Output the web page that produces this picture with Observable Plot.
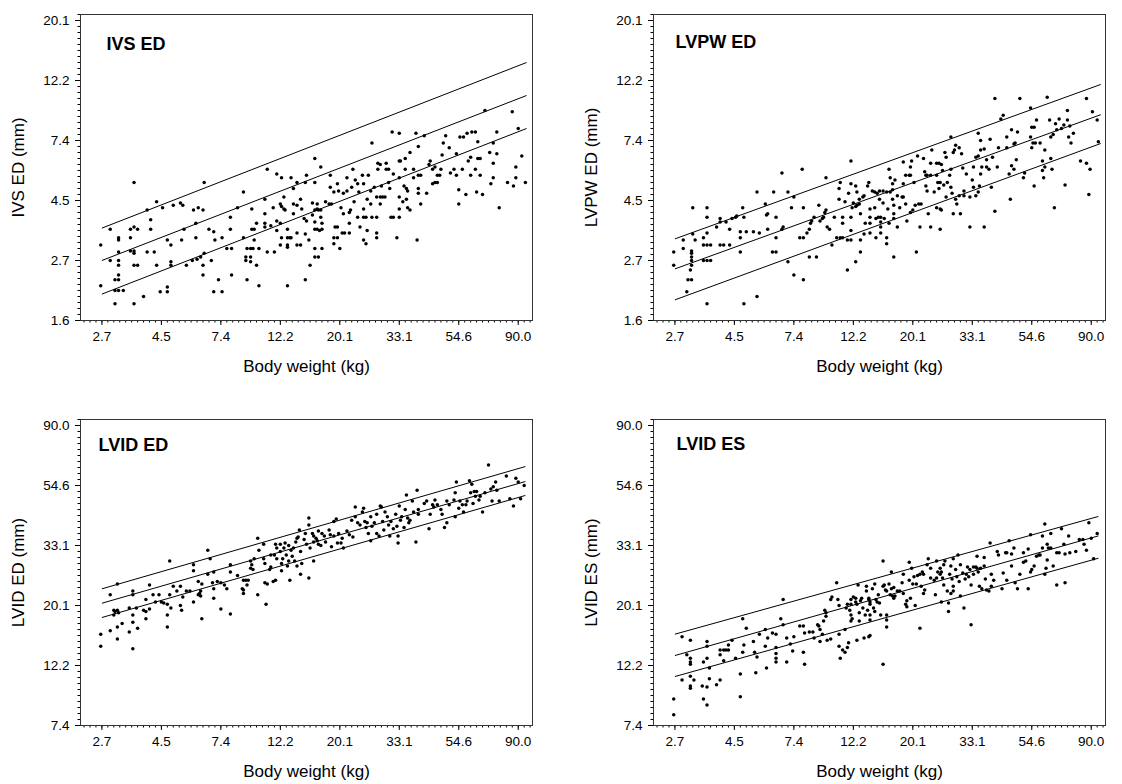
<!DOCTYPE html>
<html><head><meta charset="utf-8">
<script src="https://cdn.jsdelivr.net/npm/d3@7"></script>
<script src="https://cdn.jsdelivr.net/npm/@observablehq/plot@0.6"></script>
<style>
body{margin:0;background:#fff;}
#wrap{position:relative;width:1122px;height:784px;overflow:hidden;background:#fff;}
.panel{position:absolute;}
</style></head><body><div id="wrap"></div>
<script>
// Axes are natural-log scaled; values below are ln(body weight, kg) and ln(measurement, mm).
const xTickValues = [1, 1.5, 2, 2.5, 3, 3.5, 4, 4.5];
const xTickLabels = ["2.7", "4.5", "7.4", "12.2", "20.1", "33.1", "54.6", "90.0"];
const wallTickValues = [0.5, 1, 1.5, 2, 2.5, 3];
const wallTickLabels = ["1.6", "2.7", "4.5", "7.4", "12.2", "20.1"];
const lvidTickValues = [2, 2.5, 3, 3.5, 4, 4.5];
const lvidTickLabels = ["7.4", "12.2", "20.1", "33.1", "54.6", "90.0"];
const xTitle = "Body weight (kg)";

const ivsPoints = [[1.27,1.65],[0.99,1.13],[0.99,0.79],[1.07,1.26],[1.07,1.00],[1.11,0.64],[1.11,0.84],[1.11,0.75],[1.14,0.75],[1.18,0.75],[1.14,1.19],[1.14,1.17],[1.14,1.07],[1.14,1.00],[1.14,0.96],[1.14,0.88],[1.14,0.84],[1.24,1.19],[1.24,1.26],[1.27,1.28],[1.30,1.26],[1.24,1.08],[1.27,1.08],[1.27,1.06],[1.27,0.96],[1.30,0.96],[1.27,0.64],[1.35,0.70],[1.38,1.42],[1.41,1.34],[1.41,1.26],[1.38,1.07],[1.44,1.07],[1.46,1.49],[1.51,1.44],[1.46,0.96],[1.49,0.74],[1.55,1.17],[1.58,1.13],[1.58,0.99],[1.58,0.96],[1.55,0.78],[1.55,0.74],[1.60,1.46],[1.66,1.48],[1.68,1.46],[1.67,1.17],[1.69,1.26],[1.71,0.96],[1.77,1.42],[1.81,1.44],[1.85,1.42],[1.79,1.19],[1.76,1.00],[1.80,1.01],[1.83,1.03],[1.86,1.06],[1.86,1.65],[1.79,1.31],[1.85,0.96],[1.85,0.88],[1.90,1.26],[1.92,1.00],[1.94,1.24],[1.95,1.17],[1.94,0.74],[2.01,0.74],[1.98,0.84],[2.01,1.19],[2.05,1.10],[2.09,1.10],[2.08,1.36],[2.08,1.26],[2.09,0.88],[2.14,1.44],[2.19,1.57],[2.19,1.19],[2.22,1.10],[2.25,1.10],[2.27,1.10],[2.21,1.03],[2.25,1.03],[2.21,1.00],[2.25,0.99],[2.22,0.84],[2.26,1.43],[2.26,1.26],[2.28,1.26],[2.28,1.17],[2.30,0.96],[2.32,1.10],[2.32,0.79],[2.30,1.31],[2.37,1.51],[2.37,1.39],[2.37,1.31],[2.37,1.28],[2.39,1.76],[2.42,1.29],[2.44,1.44],[2.39,1.07],[2.45,1.07],[2.47,1.72],[2.51,1.69],[2.50,1.47],[2.51,1.45],[2.53,1.53],[2.47,1.33],[2.47,1.25],[2.50,1.31],[2.53,1.43],[2.54,1.42],[2.56,0.79],[2.56,1.26],[2.58,1.19],[2.50,1.13],[2.56,1.13],[2.56,1.11],[2.51,1.19],[2.56,1.19],[2.59,1.19],[2.59,1.69],[2.61,1.60],[2.61,1.47],[2.64,1.46],[2.61,1.39],[2.64,1.65],[2.64,1.23],[2.64,1.13],[2.67,1.13],[2.67,1.51],[2.68,1.43],[2.70,1.35],[2.72,1.71],[2.71,0.84],[2.74,1.17],
[2.71,1.65],[2.72,1.33],[2.71,1.22],[2.75,0.96],[2.77,1.48],[2.77,1.38],[2.79,1.85],[2.79,1.65],[2.79,1.42],[2.81,1.43],[2.82,1.42],[2.84,1.42],[2.79,1.32],[2.79,1.26],[2.81,1.26],[2.83,1.25],[2.85,1.26],[2.79,1.10],[2.79,1.03],[2.82,1.03],[2.81,1.47],[2.84,1.78],[2.84,1.36],[2.85,1.31],[2.85,1.10],[2.88,1.49],[2.91,1.47],[2.93,1.47],[2.92,1.71],[2.92,1.61],[2.95,1.57],[2.95,1.14],[2.96,1.28],[2.98,1.28],[2.95,1.19],[2.98,1.19],[2.98,1.64],[2.99,1.58],[3.00,1.10],[3.01,1.44],[3.02,1.23],[3.04,1.23],[3.03,1.39],[3.03,1.56],[3.06,1.58],[3.06,1.69],[3.08,1.40],[3.09,1.42],[3.08,1.31],[3.08,1.23],[3.10,1.61],[3.11,1.76],[3.12,1.49],[3.13,1.67],[3.15,1.64],[3.15,1.36],[3.16,1.57],[3.17,1.28],[3.19,1.71],[3.20,1.64],[3.20,1.43],[3.20,1.36],[3.22,1.36],[3.20,1.17],[3.22,1.14],[3.23,1.51],[3.23,1.25],[3.24,1.71],[3.26,1.58],[3.26,1.47],[3.27,1.98],[3.27,1.36],[3.29,1.61],[3.31,1.53],[3.31,1.36],[3.31,1.23],[3.31,1.19],[3.32,1.81],[3.32,1.76],[3.34,1.80],[3.34,1.53],[3.36,1.53],[3.38,1.53],[3.34,1.47],[3.35,1.62],[3.39,1.81],[3.39,1.76],[3.41,1.76],[3.41,1.65],[3.42,1.60],[3.43,1.36],[3.45,1.36],[3.44,2.07],[3.45,1.72],[3.48,1.19],[3.50,2.06],[3.50,1.83],[3.51,1.83],[3.50,1.69],[3.50,1.53],[3.50,1.43],[3.50,1.36],[3.53,1.49],[3.54,1.62],[3.56,1.60],[3.57,1.58],[3.55,1.85],[3.55,1.76],[3.56,1.51],[3.57,1.44],[3.59,1.42],[3.59,1.90],[3.62,1.76],[3.62,1.69],[3.64,2.06],[3.65,1.17],[3.66,1.71],[3.68,1.71],[3.66,1.95],[3.66,1.60],[3.66,1.56],[3.68,1.47],[3.71,2.04],[3.73,1.56],[3.75,1.80],[3.76,1.83],[3.78,1.64],[3.78,1.76],[3.80,1.78],[3.80,1.65],[3.82,1.65],[3.82,1.71],[3.84,1.71],[3.85,1.76],[3.86,1.88],[3.87,1.98],[3.89,2.04],[3.92,1.94],[3.93,1.73],[3.96,1.76],[3.98,1.89],[3.98,1.71],[4.00,1.59],[4.00,1.47],[4.01,2.03],[4.04,2.03],[4.03,1.76],[4.06,1.55],[4.07,2.06],[4.08,1.83],[4.10,1.86],[4.10,1.71],[4.11,2.07],[4.14,2.07],[4.14,1.76],[4.15,1.57],[4.16,1.99],[4.16,1.85],[4.18,1.85],[4.18,1.71],[4.20,1.55],[4.22,2.25],[4.26,1.90],[4.27,1.64],[4.29,1.98],[4.29,1.81],[4.29,1.69],[4.32,1.89],[4.32,2.07],[4.34,1.44],[4.41,1.65],[4.45,2.24],[4.46,1.62],[4.48,1.78],[4.48,1.69],[4.50,2.10],[4.53,1.87],[4.56,1.65]];

const lvpwPoints = [[0.99,1.07],[0.99,0.96],[1.07,1.17],[1.07,1.10],[1.10,0.74],[1.11,0.84],[1.14,0.84],[1.13,0.92],[1.14,0.96],[1.14,1.00],[1.14,1.03],[1.14,1.06],[1.14,1.08],[1.15,1.44],[1.15,1.22],[1.17,1.17],[1.24,1.19],[1.24,1.13],[1.27,1.13],[1.30,1.13],[1.24,1.00],[1.27,1.00],[1.30,1.00],[1.27,1.44],[1.27,1.36],[1.27,1.23],[1.27,0.64],[1.35,1.28],[1.38,1.35],[1.38,1.32],[1.38,1.13],[1.41,1.13],[1.43,1.32],[1.46,1.26],[1.46,1.13],[1.48,1.35],[1.51,1.36],[1.52,1.37],[1.55,1.24],[1.55,1.19],[1.55,1.07],[1.57,1.44],[1.58,1.36],[1.58,0.64],[1.60,1.24],[1.66,1.24],[1.69,1.57],[1.69,0.70],[1.71,1.23],[1.76,1.47],[1.77,1.38],[1.78,1.39],[1.78,1.26],[1.82,1.07],[1.85,1.07],[1.83,1.57],[1.85,1.36],[1.85,1.19],[1.90,1.73],[1.90,1.26],[1.91,1.28],[1.95,1.57],[1.95,0.99],[1.98,1.44],[2.00,1.53],[2.00,0.88],[2.05,1.19],[2.08,1.19],[2.07,1.76],[2.08,0.84],[2.08,1.44],[2.13,1.03],[2.19,1.03],[2.11,1.23],[2.13,1.26],[2.14,1.31],[2.15,1.33],[2.17,1.36],[2.21,1.46],[2.22,1.33],[2.24,1.35],[2.26,1.40],[2.27,1.42],[2.25,1.36],[2.27,1.69],[2.28,1.28],[2.30,1.26],[2.32,1.13],[2.34,1.36],[2.36,1.19],[2.38,1.60],[2.38,1.51],[2.39,1.19],[2.41,1.19],[2.39,1.65],[2.41,1.36],[2.41,1.31],[2.43,1.49],[2.45,0.92],[2.45,1.17],[2.46,1.56],[2.48,1.83],[2.48,1.64],[2.48,1.25],[2.48,1.17],[2.48,1.36],[2.49,1.44],[2.52,1.45],[2.53,1.46],[2.50,1.48],[2.55,1.47],[2.52,0.99],[2.52,1.62],[2.53,1.57],[2.55,1.51],[2.56,1.07],[2.56,1.39],[2.56,1.17],[2.58,1.53],[2.59,1.54],[2.59,1.22],[2.60,1.31],[2.62,1.62],[2.63,1.65],[2.64,1.43],
[2.64,1.31],[2.64,1.36],[2.64,1.23],[2.66,1.58],[2.68,1.57],[2.70,1.56],[2.72,1.58],[2.68,1.44],[2.69,1.19],[2.69,1.35],[2.71,1.36],[2.72,1.51],[2.73,1.36],[2.73,1.32],[2.73,1.28],[2.73,1.23],[2.75,1.58],[2.75,1.48],[2.76,1.35],[2.78,1.57],[2.78,1.19],[2.78,1.14],[2.79,1.43],[2.80,1.76],[2.80,1.31],[2.81,1.69],[2.81,1.57],[2.83,1.59],[2.83,1.64],[2.83,1.51],[2.84,1.46],[2.84,1.39],[2.84,1.03],[2.84,1.35],[2.85,1.67],[2.87,1.28],[2.87,1.54],[2.89,1.44],[2.91,1.53],[2.92,1.53],[2.92,1.64],[2.92,1.82],[2.94,1.71],[2.94,1.47],[2.95,1.33],[2.97,1.71],[2.98,1.71],[2.98,1.78],[2.98,1.40],[2.99,1.83],[3.00,1.42],[3.01,1.65],[3.02,1.46],[3.03,1.07],[3.04,1.87],[3.05,1.47],[3.07,1.47],[3.06,1.28],[3.09,1.85],[3.10,1.74],[3.11,1.71],[3.11,1.62],[3.12,1.58],[3.12,1.71],[3.15,1.71],[3.13,1.39],[3.15,1.28],[3.15,1.81],[3.16,1.92],[3.18,1.57],[3.20,1.81],[3.22,1.81],[3.20,1.44],[3.20,1.71],[3.21,1.65],[3.23,1.65],[3.22,1.60],[3.23,1.43],[3.24,1.42],[3.23,1.26],[3.24,1.80],[3.25,1.75],[3.26,1.63],[3.27,1.90],[3.28,1.86],[3.28,1.53],[3.29,1.65],[3.31,1.71],[3.32,1.76],[3.32,2.03],[3.32,1.61],[3.33,1.56],[3.34,1.39],[3.34,1.90],[3.35,1.92],[3.36,1.51],[3.36,1.96],[3.37,1.47],[3.39,1.94],[3.39,1.54],[3.40,1.39],[3.41,1.89],[3.42,1.77],[3.43,1.58],[3.43,1.54],[3.45,1.72],[3.48,1.28],[3.48,1.53],[3.50,1.67],[3.51,1.61],[3.51,1.78],[3.53,1.86],[3.53,1.54],[3.55,1.87],[3.55,1.57],[3.55,2.06],[3.56,1.62],[3.57,2.00],[3.57,1.92],[3.57,1.72],[3.58,1.78],[3.60,1.28],[3.60,1.93],[3.62,1.84],[3.62,1.78],[3.64,1.76],[3.65,2.01],[3.66,1.61],[3.67,1.86],[3.69,1.41],[3.69,2.35],[3.71,1.78],[3.72,1.94],[3.74,2.18],[3.76,2.21],[3.79,2.03],[3.79,1.94],[3.81,1.72],[3.82,1.51],[3.83,2.09],[3.83,1.79],[3.85,1.97],[3.85,1.76],[3.86,1.98],[3.87,1.84],[3.88,2.07],[3.90,2.35],[3.93,1.69],[3.94,1.73],[3.99,2.27],[3.99,2.03],[4.00,2.11],[4.02,2.11],[4.00,1.94],[4.01,1.98],[4.03,1.98],[4.02,1.62],[4.04,2.17],[4.07,1.98],[4.09,1.83],[4.09,1.75],[4.10,1.69],[4.11,1.92],[4.11,1.78],[4.13,2.36],[4.15,2.17],[4.16,1.85],[4.16,2.03],[4.18,2.05],[4.17,1.76],[4.19,1.44],[4.20,2.14],[4.21,2.09],[4.23,2.18],[4.25,2.10],[4.27,2.13],[4.28,1.63],[4.30,2.25],[4.30,2.17],[4.31,2.03],[4.32,2.12],[4.33,1.98],[4.35,2.06],[4.41,1.83],[4.46,2.35],[4.46,1.81],[4.48,1.55],[4.49,1.76],[4.51,2.24],[4.55,2.17],[4.56,1.99]];

const lvidEdPoints = [[0.99,2.76],[0.99,2.66],[1.07,3.09],[1.07,2.79],[1.10,2.96],[1.11,2.95],[1.10,2.92],[1.13,2.96],[1.14,2.94],[1.13,2.82],[1.13,2.72],[1.13,3.18],[1.17,2.85],[1.23,2.98],[1.23,2.78],[1.26,3.12],[1.26,3.09],[1.26,2.92],[1.26,2.86],[1.26,2.64],[1.29,2.98],[1.30,2.81],[1.35,2.96],[1.37,2.95],[1.37,2.89],[1.37,3.05],[1.40,3.17],[1.40,2.97],[1.43,3.09],[1.45,3.03],[1.48,3.09],[1.50,3.03],[1.52,3.02],[1.55,3.01],[1.55,2.92],[1.55,2.82],[1.57,3.09],[1.57,3.37],[1.58,2.98],[1.60,3.16],[1.63,3.12],[1.66,3.16],[1.66,3.00],[1.67,2.96],[1.68,3.07],[1.71,3.12],[1.74,3.12],[1.77,3.34],[1.77,3.29],[1.77,3.03],[1.81,3.20],[1.81,3.09],[1.82,3.10],[1.83,3.12],[1.83,3.08],[1.84,3.18],[1.84,2.89],[1.89,3.46],[1.89,3.26],[1.91,3.39],[1.93,3.19],[1.94,3.28],[1.94,3.06],[1.94,3.14],[1.97,3.20],[2.00,3.19],[2.00,2.97],[2.03,3.17],[2.05,3.14],[2.08,2.93],[2.08,3.34],[2.08,3.28],[2.14,3.25],[2.18,3.14],[2.19,3.13],[2.19,3.10],[2.19,3.21],[2.21,3.21],[2.22,3.17],[2.23,3.21],[2.25,3.37],[2.25,3.31],[2.26,3.34],[2.27,3.30],[2.28,3.39],[2.31,3.56],[2.31,3.09],[2.32,3.46],[2.36,3.39],[2.36,3.51],[2.37,3.35],[2.37,3.19],[2.38,3.01],[2.39,3.18],[2.41,3.30],[2.42,3.32],[2.42,3.42],[2.44,3.20],[2.46,3.21],[2.45,3.42],[2.46,3.51],[2.47,3.48],[2.47,3.39],[2.50,3.51],[2.50,3.45],[2.51,3.29],[2.51,3.35],[2.52,3.39],[2.53,3.48],[2.54,3.52],[2.55,3.42],[2.56,3.33],[2.57,3.50],[2.57,3.37],[2.58,3.21],[2.59,3.46],[2.60,3.41],[2.61,3.48],[2.62,3.37],[2.63,3.53],[2.64,3.33],[2.64,3.56],[2.65,3.57],[2.66,3.63],[2.67,3.26],[2.67,3.45],[2.68,3.35],[2.70,3.55],[2.71,3.60],[2.72,3.51],[2.74,3.73],[2.74,3.67],[2.74,3.23],[2.75,3.48],
[2.78,3.37],[2.77,3.60],[2.78,3.58],[2.80,3.56],[2.78,3.53],[2.81,3.54],[2.82,3.62],[2.82,3.51],[2.84,3.50],[2.85,3.60],[2.87,3.58],[2.88,3.53],[2.91,3.63],[2.92,3.59],[2.93,3.49],[2.95,3.70],[2.95,3.58],[2.97,3.72],[2.98,3.52],[3.01,3.52],[2.99,3.60],[3.02,3.56],[3.03,3.48],[3.06,3.62],[3.08,3.59],[3.10,3.71],[3.11,3.57],[3.13,3.82],[3.13,3.74],[3.15,3.69],[3.17,3.67],[3.19,3.78],[3.20,3.81],[3.21,3.70],[3.22,3.65],[3.23,3.69],[3.24,3.60],[3.26,3.74],[3.26,3.54],[3.27,3.66],[3.29,3.69],[3.31,3.60],[3.31,3.76],[3.33,3.58],[3.34,3.83],[3.35,3.82],[3.36,3.70],[3.37,3.63],[3.38,3.78],[3.40,3.74],[3.41,3.67],[3.42,3.58],[3.43,3.70],[3.45,3.64],[3.47,3.76],[3.48,3.66],[3.49,3.58],[3.49,3.52],[3.50,3.83],[3.51,3.71],[3.52,3.74],[3.54,3.65],[3.55,3.80],[3.56,3.92],[3.57,3.73],[3.58,3.69],[3.59,3.71],[3.61,3.87],[3.62,3.78],[3.64,3.53],[3.65,3.96],[3.66,3.80],[3.66,3.76],[3.71,3.85],[3.73,3.87],[3.75,3.64],[3.76,3.76],[3.78,3.84],[3.79,3.82],[3.80,3.88],[3.82,3.84],[3.85,3.80],[3.86,3.76],[3.88,3.65],[3.90,3.69],[3.90,3.87],[3.92,3.84],[3.96,3.88],[3.97,3.74],[3.97,3.94],[3.98,4.03],[4.00,3.81],[4.01,3.87],[4.03,3.84],[4.04,3.78],[4.06,3.84],[4.07,3.87],[4.09,4.04],[4.10,3.94],[4.11,4.01],[4.12,3.85],[4.13,3.95],[4.14,3.91],[4.15,3.95],[4.17,3.88],[4.18,3.91],[4.20,3.78],[4.22,3.94],[4.25,4.17],[4.27,3.97],[4.28,3.87],[4.29,3.99],[4.31,4.03],[4.32,3.96],[4.34,3.87],[4.40,4.08],[4.43,3.89],[4.46,3.83],[4.48,4.06],[4.50,4.03],[4.52,3.89],[4.55,4.00]];

const lvidEsPoints = [[0.99,2.22],[0.99,2.09],[1.06,2.74],[1.06,2.38],[1.10,2.59],[1.13,2.71],[1.13,2.56],[1.13,2.53],[1.13,2.51],[1.13,2.41],[1.13,2.33],[1.13,2.31],[1.16,2.38],[1.23,2.33],[1.24,2.53],[1.24,2.22],[1.27,2.70],[1.27,2.66],[1.27,2.56],[1.27,2.32],[1.27,2.17],[1.29,2.48],[1.29,2.39],[1.35,2.34],[1.38,2.59],[1.38,2.63],[1.41,2.63],[1.43,2.63],[1.45,2.63],[1.38,2.38],[1.41,2.54],[1.45,2.67],[1.48,2.71],[1.51,2.56],[1.55,2.43],[1.55,2.24],[1.57,2.61],[1.57,2.89],[1.58,2.67],[1.60,2.81],[1.66,2.70],[1.67,2.61],[1.68,2.44],[1.69,2.57],[1.71,2.76],[1.76,2.80],[1.76,2.66],[1.77,2.48],[1.78,2.73],[1.82,2.77],[1.85,2.76],[1.85,2.65],[1.85,2.60],[1.85,2.56],[1.85,2.53],[1.89,2.89],[1.91,3.05],[1.91,2.84],[1.94,2.73],[1.94,2.53],[1.97,2.68],[1.99,2.62],[2.00,2.74],[2.05,2.83],[2.08,2.83],[2.08,2.61],[2.09,2.77],[2.09,2.51],[2.13,2.78],[2.16,2.78],[2.17,2.73],[2.20,2.84],[2.21,2.83],[2.22,2.80],[2.22,2.70],[2.24,2.76],[2.25,2.87],[2.26,2.96],[2.27,2.94],[2.27,2.91],[2.28,2.71],[2.31,3.05],[2.32,3.07],[2.31,2.72],[2.36,3.19],[2.37,3.05],[2.38,3.00],[2.38,2.76],[2.38,2.66],[2.39,2.56],[2.41,2.63],[2.43,2.61],[2.43,2.80],[2.44,2.98],[2.45,3.01],[2.48,3.01],[2.45,2.65],[2.46,2.69],[2.47,2.96],[2.48,3.05],[2.48,2.87],[2.48,2.92],[2.49,2.89],[2.50,3.07],[2.52,3.06],[2.52,3.03],[2.53,3.01],[2.53,2.71],[2.54,3.17],[2.55,2.94],[2.55,2.87],[2.56,3.04],[2.57,3.06],[2.58,2.98],[2.59,2.73],[2.60,2.92],[2.61,3.12],[2.62,2.96],[2.63,3.05],[2.63,2.74],[2.64,2.88],
[2.64,2.75],[2.61,3.16],[2.63,3.06],[2.64,3.03],[2.64,3.01],[2.64,2.92],[2.66,3.14],[2.67,2.98],[2.68,2.95],[2.68,3.18],[2.69,3.05],[2.70,3.03],[2.72,3.02],[2.71,3.09],[2.73,2.92],[2.75,3.37],[2.75,3.16],[2.76,3.17],[2.75,2.51],[2.77,3.13],[2.78,3.12],[2.78,2.92],[2.78,2.88],[2.78,2.82],[2.80,3.18],[2.81,3.09],[2.83,3.08],[2.84,3.06],[2.85,3.08],[2.82,3.28],[2.82,3.14],[2.84,3.15],[2.87,3.12],[2.89,3.12],[2.92,3.10],[2.91,3.19],[2.92,3.26],[2.94,3.01],[2.95,3.04],[2.95,2.99],[2.97,3.21],[2.97,3.36],[2.98,3.06],[2.99,3.31],[3.00,3.18],[3.01,3.24],[3.02,3.00],[3.03,3.18],[3.04,3.25],[3.06,3.26],[3.06,2.81],[3.07,3.16],[3.08,3.28],[3.09,3.10],[3.09,3.26],[3.10,3.13],[3.12,3.34],[3.13,3.39],[3.15,3.23],[3.15,3.31],[3.18,3.21],[3.19,3.09],[3.20,3.37],[3.20,3.23],[3.21,3.28],[3.23,3.26],[3.24,3.28],[3.23,3.31],[3.24,3.03],[3.25,3.23],[3.26,3.34],[3.26,3.17],[3.27,3.37],[3.29,3.12],[3.30,2.95],[3.30,3.02],[3.31,3.26],[3.32,3.33],[3.32,3.10],[3.34,3.12],[3.33,3.22],[3.34,3.39],[3.34,3.16],[3.36,3.30],[3.37,3.24],[3.38,3.42],[3.39,3.20],[3.40,3.34],[3.40,3.08],[3.42,3.27],[3.43,2.98],[3.44,3.22],[3.45,3.26],[3.46,3.32],[3.47,3.24],[3.48,3.30],[3.49,3.17],[3.49,2.84],[3.51,3.32],[3.53,3.32],[3.54,3.31],[3.51,3.26],[3.54,3.41],[3.55,3.28],[3.56,3.16],[3.57,3.31],[3.58,3.14],[3.60,3.33],[3.60,3.40],[3.61,3.22],[3.62,3.13],[3.64,3.12],[3.65,3.52],[3.66,3.26],[3.66,3.16],[3.68,3.21],[3.71,3.45],[3.72,3.42],[3.75,3.14],[3.76,3.27],[3.78,3.44],[3.79,3.44],[3.79,3.21],[3.81,3.54],[3.83,3.33],[3.83,3.43],[3.85,3.48],[3.86,3.19],[3.88,3.14],[3.90,3.26],[3.93,3.36],[3.93,3.44],[3.95,3.37],[3.97,3.14],[3.97,3.47],[3.99,3.28],[3.99,3.59],[4.00,3.30],[4.02,3.33],[4.04,3.41],[4.06,3.42],[4.07,3.42],[4.09,3.48],[4.09,3.58],[4.11,3.26],[4.11,3.68],[4.12,3.31],[4.13,3.51],[4.13,3.38],[4.14,3.48],[4.16,3.60],[4.16,3.48],[4.18,3.33],[4.21,3.17],[4.21,3.44],[4.23,3.44],[4.25,3.64],[4.27,3.51],[4.28,3.43],[4.28,3.19],[4.31,3.58],[4.32,3.44],[4.37,3.45],[4.40,3.55],[4.43,3.55],[4.44,3.51],[4.46,3.46],[4.48,3.69],[4.50,3.56],[4.52,3.39],[4.55,3.60]];

// Reference lines (upper limit, mean, lower limit) as endpoints in ln units
const ivsLines = [
  {band: "upper", x1: 1.00, y1: 1.27, x2: 4.57, y2: 2.65},
  {band: "mean",  x1: 1.00, y1: 1.00, x2: 4.57, y2: 2.375},
  {band: "lower", x1: 1.00, y1: 0.72, x2: 4.57, y2: 2.10}
];
const lvpwLines = [
  {band: "upper", x1: 1.00, y1: 1.18, x2: 4.58, y2: 2.467},
  {band: "mean",  x1: 1.00, y1: 0.93, x2: 4.58, y2: 2.215},
  {band: "lower", x1: 1.00, y1: 0.672, x2: 4.58, y2: 1.975}
];
const lvidEdLines = [
  {band: "upper", x1: 1.00, y1: 3.139, x2: 4.56, y2: 4.158},
  {band: "mean",  x1: 1.00, y1: 3.019, x2: 4.56, y2: 4.033},
  {band: "lower", x1: 1.00, y1: 2.90, x2: 4.56, y2: 3.917}
];
const lvidEsLines = [
  {band: "upper", x1: 1.00, y1: 2.761, x2: 4.56, y2: 3.742},
  {band: "mean",  x1: 1.00, y1: 2.583, x2: 4.56, y2: 3.58},
  {band: "lower", x1: 1.00, y1: 2.408, x2: 4.56, y2: 3.394}
];

const FONT = '"Liberation Sans", Arial, Helvetica, sans-serif';
const xDomain = [0.82, 4.62];

function panel(cfg) {
  const xMinor = d3.range(0.85, xDomain[1], 0.05);
  const yMinor = d3.range(cfg.yDomain[0], cfg.yDomain[1] + 1e-9, 0.05);
  const svg = Plot.plot({
    width: 561, height: 392,
    marginLeft: cfg.mL, marginRight: cfg.mR, marginTop: cfg.mT, marginBottom: cfg.mB,
    x: {domain: xDomain},
    y: {domain: cfg.yDomain},
    style: {fontFamily: FONT, fontSize: "13px", background: "white", color: "black", overflow: "visible"},
    marks: [
      Plot.axisX({ticks: xMinor, tickSize: 2.5, tickFormat: () => "", label: null}),
      Plot.axisX({ticks: xTickValues, tickSize: 5, tickPadding: 6, fontSize: 13.5, label: null,
        tickFormat: d => xTickLabels[xTickValues.indexOf(d)]}),
      Plot.axisY({ticks: yMinor, tickSize: 2.5, tickFormat: () => "", label: null}),
      Plot.axisY({ticks: cfg.yTicks, tickSize: 5, tickPadding: 6, fontSize: 13.5, label: null,
        tickFormat: d => cfg.yLabels[cfg.yTicks.indexOf(d)]}),
      Plot.frame({stroke: "#333", strokeWidth: 1}),
      Plot.link(cfg.lines, {x1: "x1", y1: "y1", x2: "x2", y2: "y2", stroke: "black", strokeWidth: 1}),
      Plot.dot(cfg.points, {x: d => d[0], y: d => d[1], r: 1.75, fill: "black", stroke: "none"}),
      Plot.text([cfg.title], {frameAnchor: "top-left", dx: cfg.tdx, dy: cfg.tdy, lineAnchor: "bottom",
        textAnchor: "start", fontWeight: "bold", fontSize: 18}),
      Plot.text([cfg.ylabel], {frameAnchor: "left", dx: -62, rotate: -90, fontSize: 17, textAnchor: "middle"}),
      Plot.text([xTitle], {frameAnchor: "bottom", dy: 51, fontSize: 17, textAnchor: "middle"})
    ]
  });
  const div = document.createElement("div");
  div.className = "panel";
  div.style.left = cfg.left + "px";
  div.style.top = cfg.top + "px";
  div.appendChild(svg);
  document.getElementById("wrap").appendChild(div);
}

panel({points: ivsPoints, lines: ivsLines, title: "IVS ED", ylabel: "IVS ED (mm)",
  yTicks: wallTickValues, yLabels: wallTickLabels, yDomain: [0.5, 3.05],
  left: 0, top: 0, mL: 80, mR: 29, mT: 14, mB: 72, tdx: 26, tdy: 35});
panel({points: lvpwPoints, lines: lvpwLines, title: "LVPW ED", ylabel: "LVPW ED (mm)",
  yTicks: wallTickValues, yLabels: wallTickLabels, yDomain: [0.5, 3.05],
  left: 561, top: 0, mL: 92, mR: 17, mT: 14, mB: 72, tdx: 22, tdy: 33});
panel({points: lvidEdPoints, lines: lvidEdLines, title: "LVID ED", ylabel: "LVID ED (mm)",
  yTicks: lvidTickValues, yLabels: lvidTickLabels, yDomain: [2, 4.55],
  left: 0, top: 392, mL: 80, mR: 29, mT: 27, mB: 59, tdx: 18, tdy: 31});
panel({points: lvidEsPoints, lines: lvidEsLines, title: "LVID ES", ylabel: "LVID ES (mm)",
  yTicks: lvidTickValues, yLabels: lvidTickLabels, yDomain: [2, 4.55],
  left: 561, top: 392, mL: 92, mR: 17, mT: 27, mB: 59, tdx: 23, tdy: 30});
</script>
</body></html>
